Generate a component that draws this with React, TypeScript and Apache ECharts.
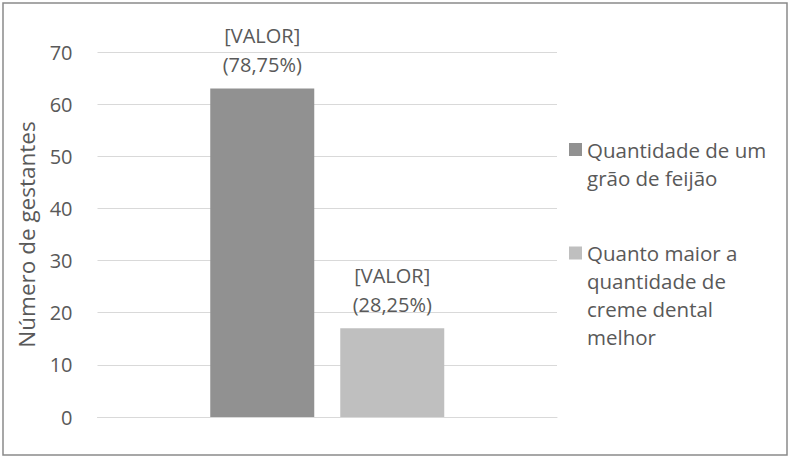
import React, { useEffect, useRef } from "react";
import * as echarts from "echarts";

const categories = [""];
const seriesNames = [
  "Quantidade de um grão de feijão",
  "Quanto maior a quantidade de creme dental melhor",
];
const legendLines = [
  ["Quantidade de um", "grão de feijão"],
  ["Quanto maior a", "quantidade de", "creme dental", "melhor"],
];
const values = [63, 17];
const labelTexts = ["[VALOR]\n(78,75%)", "[VALOR]\n(28,25%)"];
const colors = ["#919191", "#bfbfbf"];
const yTicks = { min: 0, max: 70, interval: 10 };
const yName = "Número de gestantes";

const FONT = "'Open Sans', 'Noto Sans', sans-serif";
const TEXT = "#595959";

export default function App() {
  const ref = useRef<HTMLDivElement>(null);
  useEffect(() => {
    if (!ref.current) return;
    const chart = echarts.init(ref.current, undefined, { renderer: "svg" });
    const legendTops = [107.5, 155];
    chart.setOption({
      animation: false,
      textStyle: { fontFamily: FONT },
      graphic: [
        {
          type: "rect",
          shape: { x: 3, y: 3, width: 784, height: 452 },
          style: { fill: "none", stroke: "#8a8a8a", lineWidth: 1.5 },
          silent: true,
        },
      ],
      legend: seriesNames.map((name, i) => {
        const lines = legendLines[i];
        const pad = Array(lines.length - 1).fill("").join("\n");
        const text = (lines.length > 1 ? pad + "\n" : "") + lines.join("\n");
        return {
          data: [name],
          orient: "vertical",
          left: 569,
          top: legendTops[i],
          padding: 0,
          itemWidth: 13,
          itemHeight: 13,
          icon: "rect",
          formatter: () => text,
          textStyle: {
            fontFamily: FONT,
            fontSize: 20.5,
            lineHeight: 28,
            color: TEXT,
          },
          selectedMode: false,
        };
      }),
      grid: { left: 97.5, right: 232, top: 52, bottom: 40 },
      xAxis: {
        type: "category",
        data: categories,
        axisLine: { show: true, lineStyle: { color: "#d9d9d9", width: 1 } },
        axisTick: { show: false },
        axisLabel: { show: false },
      },
      yAxis: {
        type: "value",
        min: yTicks.min,
        max: yTicks.max,
        interval: yTicks.interval,
        name: yName,
        nameLocation: "middle",
        nameGap: 60,
        nameTextStyle: { fontFamily: FONT, fontSize: 22.5, color: TEXT },
        axisLine: { show: false },
        axisTick: { show: false },
        axisLabel: { fontFamily: FONT, fontSize: 20, color: TEXT, margin: 25 },
        splitLine: { lineStyle: { color: "#d9d9d9", width: 1 } },
      },
      series: seriesNames.map((name, i) => ({
        name,
        type: "bar",
        data: [values[i]],
        barWidth: 104,
        barGap: "25%",
        itemStyle: { color: colors[i] },
        label: {
          show: true,
          position: "top",
          distance: 9,
          formatter: () => labelTexts[i],
          fontFamily: FONT,
          fontSize: 20,
          lineHeight: 29.5,
          color: TEXT,
        },
      })),
    });
    return () => chart.dispose();
  }, []);
  return (
    <div
      ref={ref}
      style={{ position: "fixed", left: 0, top: 0, width: 789, height: 457, background: "#fff" }}
    />
  );
}
